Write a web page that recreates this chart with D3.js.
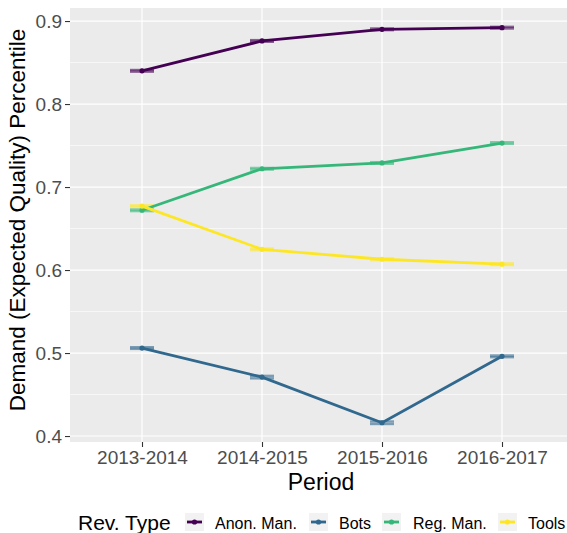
<!DOCTYPE html>
<html>
<head>
<meta charset="utf-8">
<script src="https://cdn.jsdelivr.net/npm/d3@7"></script>
<style>
  html, body { margin: 0; padding: 0; background: #fff; }
  svg text { font-family: "Liberation Sans", Arial, Helvetica, sans-serif; }
</style>
</head>
<body>
<svg id="chart" width="567" height="533"></svg>
<script>
// Periods on the x axis
const periods = ["2013-2014", "2014-2015", "2015-2016", "2016-2017"];

// Reviewer types (legend order)
const revTypes = ["Anon. Man.", "Bots", "Reg. Man.", "Tools"];
const revColors = ["#440154", "#31688E", "#35B779", "#FDE725"];

// Mean demand percentile per period
const anonMan = [0.840, 0.876, 0.890, 0.892];
const bots    = [0.506, 0.471, 0.416, 0.496];
const regMan  = [0.672, 0.722, 0.729, 0.753];
const tools   = [0.677, 0.625, 0.613, 0.607];

// Half-width of the confidence interval per period
const anonManErr = [0.001, 0.001, 0.001, 0.001];
const botsErr    = [0.001, 0.0015, 0.0015, 0.001];
const regManErr  = [0.001, 0.001, 0.001, 0.001];
const toolsErr   = [0.001, 0.001, 0.001, 0.001];

const yTicks = [0.4, 0.5, 0.6, 0.7, 0.8, 0.9];
const yMinor = [0.45, 0.55, 0.65, 0.75, 0.85];

const seriesValues = [anonMan, bots, regMan, tools];
const seriesErrors = [anonManErr, botsErr, regManErr, toolsErr];
const series = revTypes.map((name, i) => ({
  name,
  color: revColors[i],
  points: periods.map((p, j) => ({ period: p, value: seriesValues[i][j], err: seriesErrors[i][j] }))
}));

const svg = d3.select("#chart");
const panel = { left: 70, top: 8, right: 574, bottom: 442 };

const x = d3.scalePoint().domain(periods).range([panel.left + 72, panel.right - 72]);
const y = d3.scaleLinear().domain([0.3928, 0.9157]).range([panel.bottom, panel.top]);

// Panel background
svg.append("rect")
  .attr("x", panel.left).attr("y", panel.top)
  .attr("width", panel.right - panel.left).attr("height", panel.bottom - panel.top)
  .attr("fill", "#EBEBEB");

const grid = svg.append("g");
grid.selectAll(".minor").data(yMinor).join("line")
  .attr("x1", panel.left).attr("x2", panel.right)
  .attr("y1", d => y(d)).attr("y2", d => y(d))
  .attr("stroke", "#fff").attr("stroke-width", 0.6);
grid.selectAll(".majorY").data(yTicks).join("line")
  .attr("x1", panel.left).attr("x2", panel.right)
  .attr("y1", d => y(d)).attr("y2", d => y(d))
  .attr("stroke", "#fff").attr("stroke-width", 1.2);
grid.selectAll(".majorX").data(periods).join("line")
  .attr("x1", d => x(d)).attr("x2", d => x(d))
  .attr("y1", panel.top).attr("y2", panel.bottom)
  .attr("stroke", "#fff").attr("stroke-width", 1.2);

// Axes
const yAxis = svg.append("g")
  .attr("transform", `translate(${panel.left},0)`)
  .call(d3.axisLeft(y).tickValues(yTicks).tickFormat(d3.format(".1f")).tickSize(5).tickPadding(3));
const xAxis = svg.append("g")
  .attr("transform", `translate(0,${panel.bottom})`)
  .call(d3.axisBottom(x).tickSize(5).tickPadding(3));
[yAxis, xAxis].forEach(a => {
  a.select(".domain").remove();
  a.selectAll(".tick line").attr("stroke", "#333333").attr("stroke-width", 1.1);
  a.selectAll(".tick text").attr("fill", "#4D4D4D").style("font-size", "19px");
});
yAxis.selectAll(".tick text").attr("dy", "0.36em");
xAxis.selectAll(".tick text").attr("dy", "0.75em");

// Error bars
const eb = svg.append("g");
series.forEach(s => {
  const g = eb.append("g").attr("stroke", s.color).attr("stroke-opacity", 0.6).attr("stroke-width", 2.4);
  s.points.forEach(p => {
    const cx = x(p.period);
    [p.value - p.err, p.value + p.err].forEach(v => {
      g.append("line").attr("x1", cx - 12).attr("x2", cx + 12).attr("y1", y(v)).attr("y2", y(v));
    });
    g.append("line").attr("x1", cx).attr("x2", cx).attr("y1", y(p.value - p.err)).attr("y2", y(p.value + p.err));
  });
});

// Lines and points
const line = d3.line().x(d => x(d.period)).y(d => y(d.value));
series.forEach(s => {
  svg.append("path").datum(s.points)
    .attr("d", line).attr("fill", "none")
    .attr("stroke", s.color).attr("stroke-width", 2.8);
  svg.append("g").selectAll("circle").data(s.points).join("circle")
    .attr("cx", d => x(d.period)).attr("cy", d => y(d.value))
    .attr("r", 2.6).attr("fill", s.color);
});

// Axis titles
svg.append("text")
  .attr("x", 321).attr("y", 490)
  .attr("text-anchor", "middle").attr("fill", "#000")
  .style("font-size", "23px").text("Period");
svg.append("text")
  .attr("transform", "translate(25,220) rotate(-90)")
  .attr("text-anchor", "middle").attr("fill", "#000")
  .style("font-size", "22.5px").text("Demand (Expected Quality) Percentile");

// Legend
const legend = svg.append("g");
legend.append("text").attr("x", 78).attr("y", 529.5).attr("fill", "#000")
  .style("font-size", "21px").text("Rev. Type");
const keyX = [185, 309, 382, 498];
const labelX = [215, 339, 413, 528];
series.forEach((s, i) => {
  legend.append("rect").attr("x", keyX[i]).attr("y", 513).attr("width", 19).attr("height", 18).attr("fill", "#F2F2F2");
  legend.append("line").attr("x1", keyX[i] + 2).attr("x2", keyX[i] + 17).attr("y1", 522).attr("y2", 522)
    .attr("stroke", s.color).attr("stroke-width", 2.8);
  legend.append("circle").attr("cx", keyX[i] + 9.5).attr("cy", 522).attr("r", 2.6).attr("fill", s.color);
  legend.append("text").attr("x", labelX[i]).attr("y", 528.5).attr("fill", "#000")
    .style("font-size", "16px").text(s.name);
});
</script>
</body>
</html>
